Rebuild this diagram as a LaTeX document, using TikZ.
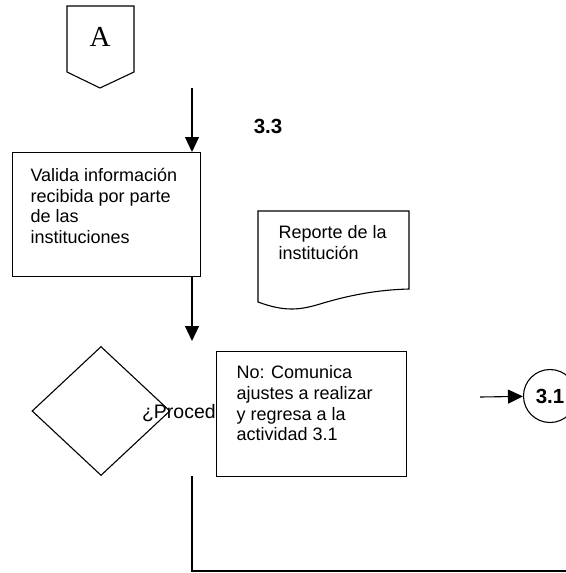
\documentclass[tikz,border=0pt]{standalone}
\usepackage{fontspec}
\setmainfont{Liberation Sans}
\newfontfamily\serifA{Liberation Serif}
\usetikzlibrary{positioning,arrows.meta,shapes.geometric}

\begin{document}
\begin{tikzpicture}[x=1pt,y=-1pt,line width=1.1pt,
   txt/.style={font=\fontsize{18}{20.8}\selectfont,align=left,inner sep=0pt,anchor=north west},
   procbox/.style={draw,fill=white,inner sep=0pt,anchor=north west},
   decision/.style={diamond,draw,inner sep=0pt,minimum width=138pt,minimum height=129pt},
   refnum/.style={font=\fontsize{20.5}{24}\selectfont\bfseries,inner sep=0pt},
   flow/.style={-{Triangle[length=15pt,width=14pt]}}]
  \useasboundingbox (0,0) rectangle (565,573);
  % off-page connector
  \draw (67,6) -- (134,6) -- (134,72) -- (100,88) -- (67,72) -- cycle;
  \node[font=\fontsize{29}{32}\selectfont\serifA,inner sep=0pt] (conA) at (100,37) {A};
  \node[refnum] (num33) at (268,126) {3.3};
  % validation step
  \node[procbox,minimum width=188pt,minimum height=124pt] (valida) at (12,152) {};
  \node[txt] (validatxt) at (30,167.5) {Valida información\\recibida por parte\\de las\\instituciones};
  \coordinate (in1) at (192,88);
  \draw[flow] (in1) -- (valida.north east -| in1);
  \coordinate (in2) at (192,341);
  \draw[flow] (valida.south east -| in1) -- (in2);
  % document
  \draw (258,211) -- (409,211) -- (409,289)
     .. controls (370,290) and (340,298) .. (320,304)
     .. controls (300,310) and (285,312) .. (258,302) -- cycle;
  \node[txt] (reporte) at (278,225) {Reporte de la\\institución};
  % decision
  \node[decision] (procede) at (101,411) {};
  \node[txt,font=\fontsize{19.5}{22}\selectfont,anchor=base west] (procedetxt) at (141.5,418) {¿Procede?};
  \node[procbox,minimum width=190pt,minimum height=125pt] (ajustes) at (216,351) {};
  \node[txt] (ajustestxt) at (236,365) {No: Comunica\\ajustes a realizar\\y regresa a la\\actividad 3.1};
  % link to 3.1
  \node[circle,draw,minimum size=53pt,refnum] (num31) at (550,396) {3.1};
  \coordinate (in3) at (480,397);
  \draw[flow] (in3) -- (num31);
  % yes branch
  \coordinate (yes) at (192,476);
  \coordinate (yesend) at (570,571);
  \draw (yes) |- (yesend);
\end{tikzpicture}
\end{document}
